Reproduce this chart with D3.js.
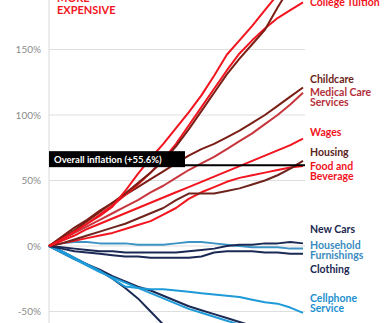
<!DOCTYPE html>
<html>
<head>
<meta charset="utf-8">
<script src="https://cdn.jsdelivr.net/npm/d3@7"></script>
<style>
  html, body { margin: 0; padding: 0; background: #fff; overflow: hidden; }
  svg { display: block; font-family: Lato, "Open Sans", sans-serif; }
</style>
</head>
<body>
<div id="chart"></div>
<script>
// years since Jan 1997, one point per year
var years = [1997,1998,1999,2000,2001,2002,2003,2004,2005,2006,2007,2008,2009,2010,2011,2012,2013,2014,2015,2016,2017];

var hospital    = [0,5,11,17,23,30,42,55,67,78,90,102,115,130,146,157,168,180,192,203,215];
var textbooks   = [0,6,12,19,26,33,40,48,56,65,76,89,103,117,131,143,154,165,182,198,212];
var tuition     = [0,5,11,17,24,31,39,47,56,66,78,92,106,120,134,147,157,166,174,180,186];
var childcare   = [0,7,14,20,27,33,39,45,51,57,63,69,74,78,83,88,94,100,107,114,121];
var medical     = [0,5,10,15,20,25,30,35,41,46,52,58,63,68,74,80,86,93,100,108,117];
var wages       = [0,4,8,13,17,21,25,29,33,37,41,45,49,53,57,61,65,69,73,77,82];
var housing     = [0,2,5,8,11,14,17,21,25,29,35,40,40,40,42,44,47,50,54,59,65];
var food        = [0,2,4,6,8,10,13,16,19,24,29,36,41,45,49,52,54,56,58,60,61];
var newCars     = [0,-1,-2,-3,-4,-4,-5,-5,-5,-5,-5,-4,-3,-2,0,1,1,2,2,3,2];
var furnishings = [0,2,3,3,2,2,2,1,1,1,2,3,3,2,1,0,-1,-1,-1,-2,-2];
var clothing    = [0,-2,-4,-5,-6,-7,-8,-8,-9,-9,-9,-9,-8,-5,-4,-4,-4,-5,-5,-6,-6];
var cellphone   = [0,-4,-9,-14,-19,-25,-31,-32,-33,-33,-34,-35,-36,-37,-38,-39,-41,-43,-44,-47,-51];
var software    = [0,-5,-10,-15,-20,-24,-28,-32,-36,-40,-44,-48,-51,-54,-57,-60,-63,-66,-69,-72,-75];
var toys        = [0,-5,-10,-14,-18,-23,-27,-31,-34,-38,-42,-46,-49,-52,-55,-58,-61,-64,-67,-70,-73];
var tvs         = [0,-4,-9,-14,-19,-25,-32,-40,-50,-60,-70,-78,-84,-88,-90,-92,-93,-94,-95,-96,-96];

var yTicks = [-50, 0, 50, 100, 150];
var overallInflation = 55.6;

var series = [
  {values: tvs,         color: '#1b2a55'},
  {values: toys,        color: '#1b2a55'},
  {values: software,    color: '#1e9ad8'},
  {values: cellphone,   color: '#1e9ad8', label: ['Cellphone', 'Service'], labelColor: '#1e8fd0', dy: -11},
  {values: clothing,    color: '#1b2a55', label: ['Clothing'], labelColor: '#1b2850', dy: 19},
  {values: furnishings, color: '#3d93c4', label: ['Household', 'Furnishings'], labelColor: '#3a8cc0', dy: 0},
  {values: newCars,     color: '#1b2a55', label: ['New Cars'], labelColor: '#1b2850', dy: -10},
  {values: food,        color: '#f2141e', label: ['Food and', 'Beverage'], labelColor: '#f2141e', dy: 4},
  {values: housing,     color: '#6e241c', label: ['Housing'], labelColor: '#5a2520', dy: -5},
  {values: wages,       color: '#f2141e', label: ['Wages'], labelColor: '#f2141e', dy: -2.5},
  {values: medical,     color: '#c7363d', label: ['Medical Care', 'Services'], labelColor: '#b3303a', dy: 3},
  {values: childcare,   color: '#7b1e16', label: ['Childcare'], labelColor: '#6b1f1a', dy: -4.5},
  {values: tuition,     color: '#f2141e', label: ['College Tuition'], labelColor: '#f2141e', dy: 4},
  {values: textbooks,   color: '#7b1e16'},
  {values: hospital,    color: '#f2141e'}
];

var width = 388, height = 323;

var x = d3.scaleLinear().domain([years[0], years[years.length - 1]]).range([49, 303]);
var y = d3.scaleLinear().domain([-50, 150]).range([311.5, 49.5]);

var svg = d3.select('#chart').append('svg')
  .attr('width', width)
  .attr('height', height);

// gridlines
svg.append('g').selectAll('line').data(yTicks).enter()
  .append('line')
    .attr('x1', 49).attr('x2', 305)
    .attr('y1', function(d) { return y(d); })
    .attr('y2', function(d) { return y(d); })
    .attr('stroke', '#dedede')
    .attr('stroke-width', 1);

// y axis
var yAxis = svg.append('g')
  .attr('transform', 'translate(49,0)')
  .call(d3.axisLeft(y).tickValues(yTicks).tickSize(0).tickPadding(8)
    .tickFormat(function(d) { return d + '%'; }));
yAxis.select('.domain').remove();
yAxis.selectAll('text')
  .attr('fill', '#8c8c8c')
  .style('font-size', '10px')
  .style('font-family', 'Lato, sans-serif');

svg.append('line')
  .attr('x1', 49).attr('x2', 49)
  .attr('y1', 0).attr('y2', height)
  .attr('stroke', '#d8d8d8')
  .attr('stroke-width', 1);

var line = d3.line()
  .x(function(d, i) { return x(years[i]); })
  .y(function(d) { return y(d); });

svg.append('g').selectAll('path').data(series).enter()
  .append('path')
    .attr('d', function(d) { return line(d.values); })
    .attr('fill', 'none')
    .attr('stroke', function(d) { return d.color; })
    .attr('stroke-width', 2)
    .attr('stroke-linejoin', 'round');

// end labels, one text per row so rows don't collide
var labelled = series.filter(function(d) { return d.label; });
var labelG = svg.append('g').selectAll('g').data(labelled).enter()
  .append('g')
    .attr('fill', function(d) { return d.labelColor; });
labelG.selectAll('text').data(function(d) {
    var base = y(d.values[d.values.length - 1]) + d.dy;
    return d.label.map(function(t, i) { return {text: t, y: base + i * 10}; });
  }).enter()
  .append('text')
    .attr('x', 310)
    .attr('y', function(d) { return d.y; })
    .style('font-size', '10.5px')
    .style('font-weight', 'bold')
    .text(function(d) { return d.text; });

// overall inflation marker
var yInf = y(overallInflation) - 8;
svg.append('line')
  .attr('x1', 49).attr('x2', 305)
  .attr('y1', yInf).attr('y2', yInf)
  .attr('stroke', '#000')
  .attr('stroke-width', 2);
svg.append('rect')
  .attr('x', 49).attr('y', yInf - 14)
  .attr('width', 136).attr('height', 16)
  .attr('fill', '#000');
svg.append('text')
  .attr('x', 54).attr('y', yInf - 2.5)
  .attr('fill', '#fff')
  .style('font-size', '9.5px')
  .style('font-weight', 'bold')
  .text('Overall inflation (+' + overallInflation + '%)');

// title
svg.selectAll('.title').data(['MORE', 'EXPENSIVE']).enter()
  .append('text')
    .attr('class', 'title')
    .attr('x', 57)
    .attr('y', function(d, i) { return 2 + i * 12; })
    .attr('fill', '#f2141e')
    .style('font-size', '11px')
    .style('font-weight', 'bold')
    .text(function(d) { return d; });
</script>
</body>
</html>
